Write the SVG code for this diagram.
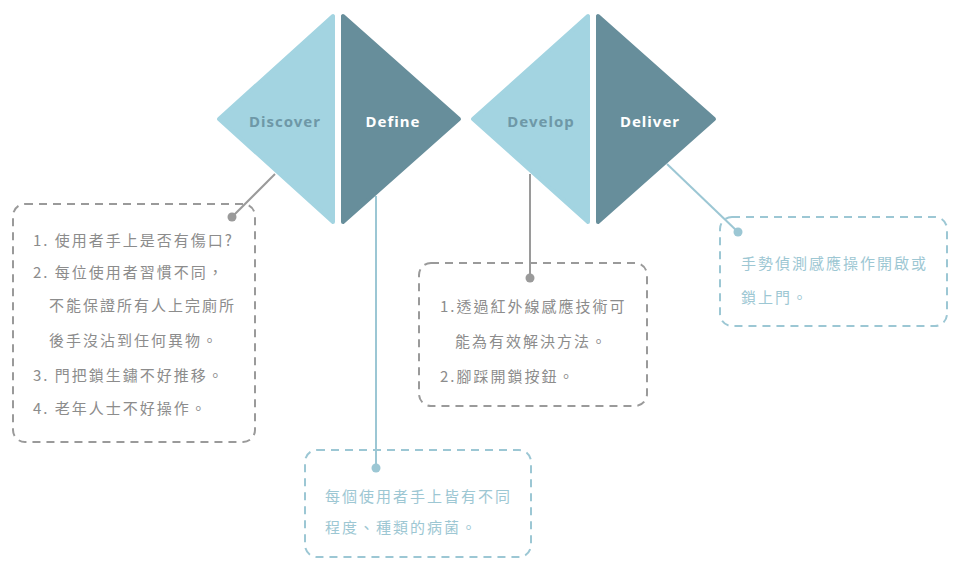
<svg xmlns="http://www.w3.org/2000/svg" width="960" height="579" viewBox="0 0 960 579">
<style>
.lt{fill:#A3D4E1;stroke:#A3D4E1;stroke-width:4;stroke-linejoin:round}
.dk{fill:#678E9B;stroke:#678E9B;stroke-width:4;stroke-linejoin:round}
.lbl{font-family:"Noto Sans","Liberation Sans",sans-serif;font-weight:700;font-size:15px;letter-spacing:1px;text-anchor:middle}
.lbl1{fill:#6E98A7}
.lbl2{fill:#FFFFFF}
.box{fill:none;stroke-width:2;stroke-dasharray:8 6}
.bg{stroke:#9A9A9A}
.bb{stroke:#9CC7D4}
.t{font-family:"Noto Sans CJK TC","Noto Sans",sans-serif;font-size:15px;letter-spacing:2px}
.tg{fill:#8C8C8C}
.tb{fill:#9DC7D3}
.cg{stroke:#9A9A9A;stroke-width:2;fill:none}
.cb{stroke:#9CC7D4;stroke-width:2;fill:none}
.dg{fill:#9A9A9A}
.db{fill:#9CC7D4}
</style>
<rect width="960" height="579" fill="#FFFFFF"/>
<g id="discover">
<polygon class="lt" points="333,16 333,222 219,119"/>
<text class="lbl lbl1" x="285" y="127">Discover</text>
</g>
<g id="define">
<polygon class="dk" points="343,16 343,222 459,119"/>
<text class="lbl lbl2" x="393" y="127">Define</text>
</g>
<g id="develop">
<polygon class="lt" points="588,16 588,222 473,119"/>
<text class="lbl lbl1" x="541" y="127">Develop</text>
</g>
<g id="deliver">
<polygon class="dk" points="598,16 598,222 714,119"/>
<text class="lbl lbl2" x="650" y="127">Deliver</text>
</g>
<g id="connectors">
<line class="cg" x1="275" y1="174" x2="232" y2="217"/>
<circle class="dg" cx="232" cy="217" r="4.5"/>
<line class="cb" x1="376" y1="196" x2="376" y2="468"/>
<circle class="db" cx="376" cy="468" r="4.5"/>
<line class="cg" x1="530" y1="174" x2="530" y2="278"/>
<circle class="dg" cx="530" cy="278" r="4.5"/>
<line class="cb" x1="667" y1="164" x2="738" y2="232"/>
<circle class="db" cx="738" cy="232" r="4.5"/>
</g>
<g id="box-discover">
<rect class="box bg" x="13" y="204" width="242" height="238" rx="12"/>
<text class="t tg" x="33" y="246">1. 使用者手上是否有傷口?</text>
<text class="t tg" x="33" y="278">2. 每位使用者習慣不同，</text>
<text class="t tg" x="49" y="311">不能保證所有人上完廁所</text>
<text class="t tg" x="49" y="346">後手沒沾到任何異物。</text>
<text class="t tg" x="33" y="381">3. 門把鎖生鏽不好推移。</text>
<text class="t tg" x="33" y="414">4. 老年人士不好操作。</text>
</g>
<g id="box-define">
<rect class="box bb" x="305" y="450" width="226" height="107" rx="12"/>
<text class="t tb" x="325" y="502">每個使用者手上皆有不同</text>
<text class="t tb" x="325" y="533">程度、種類的病菌。</text>
</g>
<g id="box-develop">
<rect class="box bg" x="419" y="263" width="228" height="143" rx="12"/>
<text class="t tg" x="440" y="312">1.透過紅外線感應技術可</text>
<text class="t tg" x="455" y="347">能為有效解決方法。</text>
<text class="t tg" x="440" y="382">2.腳踩開鎖按鈕。</text>
</g>
<g id="box-deliver">
<rect class="box bb" x="720" y="217" width="227" height="109" rx="12"/>
<text class="t tb" x="741" y="269">手勢偵測感應操作開啟或</text>
<text class="t tb" x="741" y="303">鎖上門。</text>
</g>
</svg>
